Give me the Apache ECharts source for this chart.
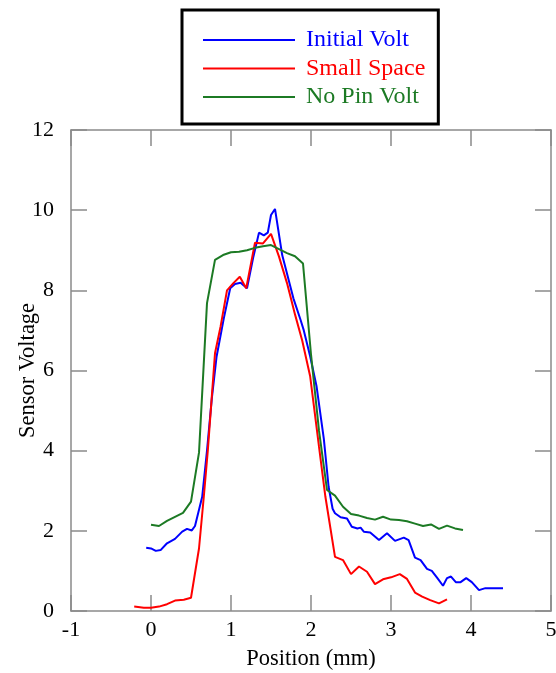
<!DOCTYPE html>
<html>
<head>
<meta charset="utf-8">
<script src="https://cdn.jsdelivr.net/npm/echarts@6/dist/echarts.min.js"></script>
<style>
  html, body { margin: 0; padding: 0; background: #fff; }
  #chart { width: 556px; height: 673px; }
</style>
</head>
<body>
<div id="chart"></div>
<script>
// Sensor voltage profiles across position (mm)
const seriesNames = ['Initial Volt', 'Small Space', 'No Pin Volt'];
const seriesColors = ['#0000ff', '#ff0000', '#1c7a24'];

const initialVolt = [
  [-0.06, 1.58], [0.0, 1.56], [0.06, 1.50], [0.12, 1.52], [0.2, 1.69], [0.3, 1.80],
  [0.39, 1.98], [0.45, 2.05], [0.51, 2.01], [0.55, 2.12], [0.64, 2.85], [0.7, 4.0],
  [0.76, 5.3], [0.82, 6.35], [0.91, 7.3], [0.99, 8.05], [1.05, 8.16], [1.12, 8.19],
  [1.2, 8.05], [1.28, 8.84], [1.35, 9.44], [1.41, 9.37], [1.46, 9.44], [1.5, 9.88],
  [1.55, 10.03], [1.64, 8.88], [1.78, 7.8], [1.87, 7.26], [1.91, 7.0], [1.99, 6.35],
  [2.07, 5.6], [2.16, 4.3], [2.22, 3.1], [2.27, 2.55], [2.3, 2.44], [2.37, 2.34],
  [2.45, 2.31], [2.51, 2.1], [2.58, 2.06], [2.62, 2.08], [2.66, 1.98], [2.74, 1.96],
  [2.85, 1.77], [2.95, 1.94], [3.05, 1.75], [3.16, 1.83], [3.22, 1.77], [3.3, 1.33],
  [3.37, 1.27], [3.45, 1.05], [3.51, 1.0], [3.58, 0.82], [3.65, 0.63], [3.7, 0.82],
  [3.75, 0.86], [3.81, 0.72], [3.87, 0.72], [3.94, 0.82], [4.01, 0.72], [4.1, 0.52],
  [4.18, 0.57], [4.28, 0.57], [4.4, 0.57]
];

const smallSpace = [
  [-0.21, 0.11], [-0.09, 0.08], [0.0, 0.08], [0.1, 0.11], [0.2, 0.17], [0.3, 0.26],
  [0.41, 0.28], [0.5, 0.33], [0.6, 1.56], [0.66, 2.85], [0.71, 4.0], [0.8, 6.43],
  [0.87, 7.1], [0.95, 8.0], [1.03, 8.18], [1.11, 8.34], [1.19, 8.05], [1.3, 9.19],
  [1.4, 9.17], [1.5, 9.41], [1.6, 8.84], [1.7, 8.18], [1.8, 7.4], [1.89, 6.75],
  [1.99, 5.85], [2.1, 4.1], [2.18, 2.85], [2.3, 1.35], [2.4, 1.27], [2.5, 0.92],
  [2.6, 1.11], [2.7, 0.98], [2.8, 0.67], [2.9, 0.79], [3.0, 0.84], [3.11, 0.92],
  [3.2, 0.8], [3.3, 0.46], [3.39, 0.36], [3.49, 0.27], [3.6, 0.19], [3.7, 0.29]
];

const noPinVolt = [
  [0.0, 2.15], [0.1, 2.12], [0.2, 2.25], [0.3, 2.35], [0.4, 2.45], [0.5, 2.73],
  [0.6, 3.95], [0.7, 7.68], [0.8, 8.76], [0.9, 8.88], [1.0, 8.95], [1.1, 8.96],
  [1.2, 9.0], [1.3, 9.06], [1.4, 9.1], [1.5, 9.13], [1.6, 9.03], [1.7, 8.93],
  [1.8, 8.85], [1.9, 8.67], [2.0, 6.4], [2.1, 4.5], [2.2, 3.02], [2.3, 2.88],
  [2.4, 2.6], [2.5, 2.42], [2.6, 2.38], [2.7, 2.32], [2.8, 2.28], [2.9, 2.35],
  [3.0, 2.28], [3.1, 2.27], [3.2, 2.24], [3.3, 2.18], [3.4, 2.12], [3.5, 2.16],
  [3.6, 2.05], [3.7, 2.13], [3.8, 2.06], [3.9, 2.02]
];

const seriesData = [initialVolt, smallSpace, noPinVolt];

const xTicks = { min: -1, max: 5, interval: 1 };
const yTicks = { min: 0, max: 12, interval: 2 };

const FONT = '"Liberation Serif", "Times New Roman", serif';
const axisGray = '#8a8a8a';

function frameAxis(extra) {
  return Object.assign({
    type: 'value',
    axisLine: { show: true, onZero: false, lineStyle: { color: axisGray, width: 1.5 } },
    axisTick: { show: true, inside: true, length: 16, lineStyle: { color: axisGray, width: 1.5 } },
    splitLine: { show: false },
    axisLabel: { show: false }
  }, extra);
}

const chart = echarts.init(document.getElementById('chart'), null, { renderer: 'canvas' });

chart.setOption({
  animation: false,
  backgroundColor: '#ffffff',
  grid: { left: 71, right: 5, top: 130, bottom: 62, containLabel: false, outerBoundsMode: 'none' },
  legend: {
    orient: 'vertical',
    left: 182,
    top: 10,
    backgroundColor: '#ffffff',
    borderColor: '#000000',
    borderWidth: 3,
    padding: [18, 13, 15, 21],
    itemWidth: 92,
    itemHeight: 25,
    itemGap: 4.5,
    // plain line swatch for each series
    icon: 'path://M0,0 L92,0 L92,2 L0,2 Z',
    textStyle: { fontFamily: FONT, fontSize: 24, padding: [0, 0, 0, 6] },
    data: seriesNames.map((n, i) => ({ name: n, textStyle: { color: seriesColors[i] } }))
  },
  xAxis: [
    frameAxis({
      position: 'bottom',
      min: xTicks.min, max: xTicks.max, interval: xTicks.interval,
      name: 'Position (mm)',
      nameLocation: 'middle',
      nameGap: 37,
      nameMoveOverlap: false,
      nameTextStyle: { fontFamily: FONT, fontSize: 22.5, color: '#000' },
      axisLabel: { show: true, margin: 8, fontFamily: FONT, fontSize: 22, color: '#000' }
    }),
    frameAxis({ position: 'top', min: xTicks.min, max: xTicks.max, interval: xTicks.interval })
  ],
  yAxis: [
    frameAxis({
      position: 'left',
      min: yTicks.min, max: yTicks.max, interval: yTicks.interval,
      name: 'Sensor Voltage',
      nameLocation: 'middle',
      nameGap: 31,
      nameMoveOverlap: false,
      nameTextStyle: { fontFamily: FONT, fontSize: 22.5, color: '#000' },
      axisLabel: { show: true, margin: 17, fontFamily: FONT, fontSize: 22, color: '#000' }
    }),
    frameAxis({ position: 'right', min: yTicks.min, max: yTicks.max, interval: yTicks.interval })
  ],
  series: seriesNames.map((n, i) => ({
    name: n,
    type: 'line',
    xAxisIndex: 0,
    yAxisIndex: 0,
    data: seriesData[i],
    showSymbol: false,
    symbol: 'none',
    smooth: false,
    itemStyle: { color: seriesColors[i] },
    lineStyle: { color: seriesColors[i], width: 2 }
  }))
});
</script>
</body>
</html>
